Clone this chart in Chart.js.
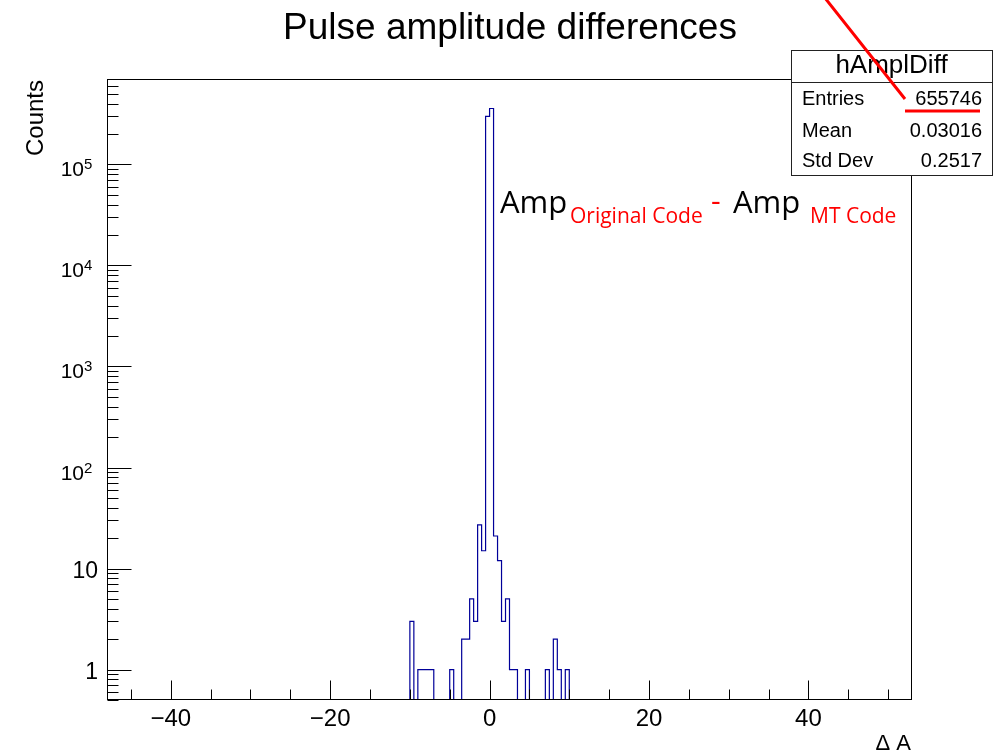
<!DOCTYPE html>
<html>
<head>
<meta charset="UTF-8">
<title>Pulse amplitude differences</title>
<script src="https://cdn.jsdelivr.net/npm/chart.js"></script>
<style>
    body { margin: 0; background: #fff; }
    #wrap { width: 1005px; height: 755px; position: relative; }
</style>
</head>
<body>
<div id="wrap"><canvas id="histo"></canvas></div>
<script>
    // histogram hAmplDiff, bins of 0.5 from -10 to 10 (all other bins empty)
    const firstEdge = -10;
    const binWidth = 0.5;
    const counts = [3, 0, 1, 1, 1, 1, 0, 0, 0, 0,
                    1, 0, 0, 2, 2, 5, 3, 27, 15, 298000,
                    357500, 21, 12, 3, 5, 1, 1, 0, 0, 1,
                    0, 0, 0, 0, 1, 0, 2, 1, 0, 1];
    const xRange = [-48, 53];
    const yRange = [0.5, 7e5];
    const xLabelTicks = [-40, -20, 0, 20, 40];
    const yLabelPowers = [0, 1, 2, 3, 4, 5];
    const statsRows = [['Entries', '655746'], ['Mean', '0.03016'], ['Std Dev', '0.2517']];

    // outline points, empty bins sit on the lower edge of the frame
    const pts = [{ x: xRange[0], y: yRange[0] }];
    counts.forEach((c, i) => {
        pts.push({ x: firstEdge + i * binWidth, y: c > 0 ? c : yRange[0] });
    });
    pts.push({ x: firstEdge + counts.length * binWidth, y: yRange[0] });
    pts.push({ x: xRange[1], y: yRange[0] });

    const FONT = '"Liberation Sans", Arial, sans-serif';

    const rootStyle = {
        id: 'rootStyle',
        afterDraw(chart) {
            const ctx = chart.ctx;
            const a = chart.chartArea;
            const xs = chart.scales.x, ys = chart.scales.y;
            const L = Math.round(a.left) + 0.5, R = Math.round(a.right) - 0.5;
            const T = Math.round(a.top) + 0.5, B = Math.round(a.bottom) - 0.5;
            ctx.save();
            ctx.strokeStyle = '#000';
            ctx.lineWidth = 1;
            ctx.strokeRect(L, T, R - L, B - T);

            // y ticks (inside)
            ctx.beginPath();
            for (let k = -1; k <= 5; k++) {
                for (let m = 1; m <= 9; m++) {
                    const v = m * Math.pow(10, k);
                    if (v < yRange[0] || v > yRange[1]) continue;
                    const y = Math.round(ys.getPixelForValue(v)) + 0.5;
                    ctx.moveTo(L, y);
                    ctx.lineTo(L + (m === 1 ? 24 : 11), y);
                }
            }
            // x ticks (inside)
            for (let v = -45; v <= 50; v += 5) {
                const x = Math.round(xs.getPixelForValue(v)) + 0.5;
                ctx.moveTo(x, B);
                ctx.lineTo(x, B - (v % 20 === 0 ? 19 : 10));
            }
            ctx.stroke();

            ctx.fillStyle = '#000';
            ctx.textBaseline = 'alphabetic';
            // x labels
            ctx.font = '24px ' + FONT;
            ctx.textAlign = 'center';
            xLabelTicks.forEach(v => {
                const t = v < 0 ? '\u2212' + Math.abs(v) : String(v);
                ctx.fillText(t, xs.getPixelForValue(v), 726);
            });
            // y labels
            yLabelPowers.forEach(p => {
                const y = ys.getPixelForValue(Math.pow(10, p));
                if (p < 2) {
                    ctx.font = '23px ' + FONT;
                    ctx.textAlign = 'right';
                    ctx.fillText(p === 0 ? '1' : '10', 98, y + 9);
                } else {
                    ctx.font = '21px ' + FONT;
                    ctx.textAlign = 'right';
                    ctx.fillText('10', 84, y + 12);
                    ctx.font = '15px ' + FONT;
                    ctx.textAlign = 'left';
                    ctx.fillText(String(p), 84, y + 5);
                }
            });
            // axis titles
            ctx.font = '22px ' + FONT;
            ctx.textAlign = 'right';
            ctx.fillText('\u0394 A', 911, 750);
            ctx.save();
            ctx.translate(43, 118);
            ctx.rotate(-Math.PI / 2);
            ctx.textAlign = 'center';
            ctx.font = '24px ' + FONT;
            ctx.fillText('Counts', 0, 0);
            ctx.restore();
            // title
            ctx.font = '37px ' + FONT;
            ctx.textAlign = 'center';
            ctx.fillText('Pulse amplitude differences', 510, 39);

            // stats box
            ctx.fillStyle = '#fff';
            ctx.fillRect(791, 50, 201, 125);
            ctx.strokeStyle = '#222';
            ctx.strokeRect(791.5, 50.5, 201, 125);
            ctx.beginPath();
            ctx.moveTo(791.5, 82.5);
            ctx.lineTo(992.5, 82.5);
            ctx.stroke();
            ctx.fillStyle = '#000';
            ctx.font = '26px ' + FONT;
            ctx.textAlign = 'center';
            ctx.fillText('hAmplDiff', 891.5, 73);
            ctx.font = '20px ' + FONT;
            statsRows.forEach((r, i) => {
                const by = [105, 137, 167][i];
                ctx.textAlign = 'left';
                ctx.fillText(r[0], 802, by);
                ctx.textAlign = 'right';
                ctx.fillText(r[1], 982, by);
            });

            // annotation
            const OS = '"Open Sans", sans-serif';
            ctx.textAlign = 'left';
            ctx.font = '31px ' + OS;
            ctx.fillStyle = '#000';
            ctx.fillText('Amp', 500, 213);
            ctx.fillText('Amp', 733, 213);
            ctx.fillStyle = '#ff0000';
            ctx.font = '21px ' + OS;
            ctx.fillText('Original Code', 570, 223);
            ctx.fillText('MT Code', 810, 223);
            ctx.font = '30px ' + OS;
            ctx.fillText('-', 711, 211);

            ctx.strokeStyle = '#ff0000';
            ctx.lineWidth = 3;
            ctx.beginPath();
            ctx.moveTo(825, -2);
            ctx.lineTo(905, 99);
            ctx.moveTo(905, 111);
            ctx.lineTo(980, 111);
            ctx.stroke();
            ctx.restore();
        }
    };

    new Chart(document.getElementById('histo'), {
        type: 'line',
        data: {
            datasets: [{
                label: 'hAmplDiff',
                data: pts,
                stepped: 'before',
                borderColor: '#000099',
                borderWidth: 1.2,
                pointRadius: 0,
                fill: false
            }]
        },
        options: {
            responsive: true,
            maintainAspectRatio: false,
            animation: false,
            layout: { padding: { left: 107, right: 93, top: 79, bottom: 55 } },
            plugins: { legend: { display: false }, tooltip: { enabled: false } },
            scales: {
                x: { type: 'linear', min: xRange[0], max: xRange[1], display: false },
                y: { type: 'logarithmic', min: yRange[0], max: yRange[1], display: false }
            }
        },
        plugins: [rootStyle]
    });
</script>
</body>
</html>
